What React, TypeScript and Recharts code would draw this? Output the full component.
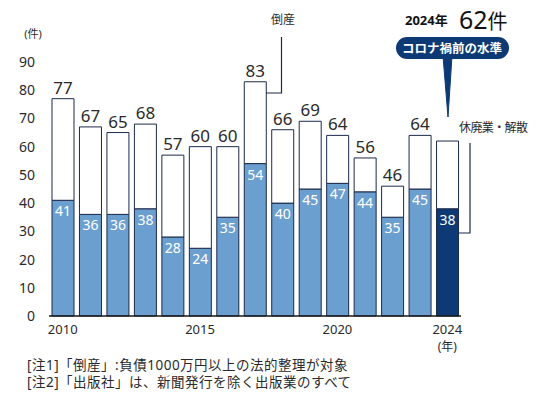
import { ComposedChart, Bar, XAxis, YAxis, Cell, LabelList } from "recharts";

// 出版社の倒産・休廃業・解散 件数（年次）
const years = ["2010", "2011", "2012", "2013", "2014", "2015", "2016", "2017", "2018", "2019", "2020", "2021", "2022", "2023", "2024"];
const bankrupt = [41, 36, 36, 38, 28, 24, 35, 54, 40, 45, 47, 44, 35, 45, 38];
const totals = [77, 67, 65, 68, 57, 60, 60, 83, 66, 69, 64, 56, 46, 64, 62];
const shownYears = ["2010", "2015", "2020", "2024"];
const yTicks = [0, 10, 20, 30, 40, 50, 60, 70, 80, 90];

const data = years.map((y, i) => ({
  year: y,
  bankrupt: bankrupt[i],
  closed: totals[i] - bankrupt[i],
  // 2024 total is shown in the callout instead of above the bar
  total: y === "2024" ? null : totals[i],
}));

const W = 547;
const H = 397;
const M = { top: 62, right: 86, bottom: 51, left: 9 };
const Y_W = 40;
const X_H = 30;
const plotL = M.left + Y_W;
const plotR = W - M.right;
const plotB = H - M.bottom - X_H;
const band = (plotR - plotL) / years.length;
const yPx = (v: number) => plotB - (v / 90) * (plotB - M.top);
const xCenter = (year: string) => plotL + band * (years.indexOf(year) + 0.5);

const FONT = "'Noto Sans', 'Noto Sans CJK JP', sans-serif";
const NAVY = "#0d3a75";
const BLUE = "#6b9fd0";
const EDGE = "#1b2a4a";
const INK = "#2a2a2a";

function YearTick(props: any) {
  const { x, y, payload } = props;
  if (!shownYears.includes(payload.value)) return null;
  return (
    <g>
      <text x={x} y={y} dy={18} textAnchor="middle" fontSize={13} fill={INK} fontFamily={FONT}>
        {payload.value}
      </text>
      {payload.value === "2024" && (
        <text x={x} y={y} dy={35} textAnchor="middle" fontSize={12} fill={INK} fontFamily={FONT}>
          (年)
        </text>
      )}
    </g>
  );
}

function Overlay() {
  const b17 = Math.round(xCenter("2017") + 11);
  const b24 = Math.round(xCenter("2024") + 11);
  const c24 = Math.round(xCenter("2024"));
  const tip = Math.round(yPx(62)) - 24;
  return (
    <svg width={W} height={H} style={{ position: "absolute", left: 0, top: 0, pointerEvents: "none" }} fontFamily={FONT}>
      <text x={33} y={38} textAnchor="middle" fontSize={11} fill={INK}>(件)</text>

      {/* 倒産 bracket */}
      <text x={283} y={24} textAnchor="middle" fontSize={12} fill={INK}>倒産</text>
      <path d={`M${b17} ${Math.round(yPx(79))} H281.5 V37`} fill="none" stroke={EDGE} strokeWidth={1.2} />

      {/* 休廃業・解散 bracket */}
      <text x={459} y={132} fontSize={12} fill={INK} letterSpacing={-0.6}>休廃業・解散</text>
      <path d={`M${b24} ${Math.round(yPx(29.4))} H470 V143`} fill="none" stroke={EDGE} strokeWidth={1.2} />

      {/* 2024 callout */}
      <text x={405} y={25} fontSize={13} fontWeight={700} fill="#111">2024年</text>
      <text x={459} y={29} fontSize={25} fill="#111">62<tspan fontSize={20}>件</tspan></text>
      <polygon
        points={`${c24 - 4},56 ${c24 + 5},56 ${c24 + 1},${tip}`}
        fill={NAVY}
        stroke={NAVY}
        strokeWidth={1}
        strokeLinejoin="miter"
      />
      <rect x={396} y={37} width={113} height={22} rx={11} fill={NAVY} />
      <text x={452} y={53} textAnchor="middle" fontSize={12.5} fontWeight={700} fill="#fff">コロナ禍前の水準</text>
    </svg>
  );
}

export default function App() {
  return (
    <div style={{ position: "absolute", left: 0, top: 0, width: W, height: H, background: "#fff" }}>
      <ComposedChart width={W} height={H} data={data} margin={M}>
        <XAxis
          dataKey="year"
          height={X_H}
          interval={0}
          tickLine={false}
          tickSize={0}
          tickMargin={0}
          tick={<YearTick />}
          axisLine={{ stroke: "#1a1a1a", strokeWidth: 1.5 }}
        />
        <YAxis
          width={Y_W}
          domain={[0, 90]}
          ticks={yTicks}
          axisLine={false}
          tickLine={false}
          tickMargin={8}
          tick={{ fontSize: 14, fill: INK, fontFamily: FONT }}
        />
        <Bar dataKey="bankrupt" stackId="a" barSize={22} stroke={EDGE} strokeWidth={1} isAnimationActive={false}>
          {data.map((d) => (
            <Cell key={d.year} fill={d.year === "2024" ? NAVY : BLUE} />
          ))}
          <LabelList dataKey="bankrupt" position="insideTop" offset={6} fill="#fff" fontSize={14} fontFamily={FONT} />
        </Bar>
        <Bar dataKey="closed" stackId="a" barSize={22} fill="#fff" stroke={EDGE} strokeWidth={1} isAnimationActive={false}>
          <LabelList dataKey="total" position="top" offset={5} fill={INK} fontSize={17} fontFamily={FONT} />
        </Bar>
      </ComposedChart>
      <Overlay />
      <div style={{ position: "absolute", left: 27, top: 357, fontSize: 13.5, lineHeight: "17px", letterSpacing: 0.5, color: INK, fontFamily: FONT, whiteSpace: "nowrap" }}>
        <div>[注1]「倒産」:負債1000万円以上の法的整理が対象</div>
        <div>[注2]「出版社」は、新聞発行を除く出版業のすべて</div>
      </div>
    </div>
  );
}
